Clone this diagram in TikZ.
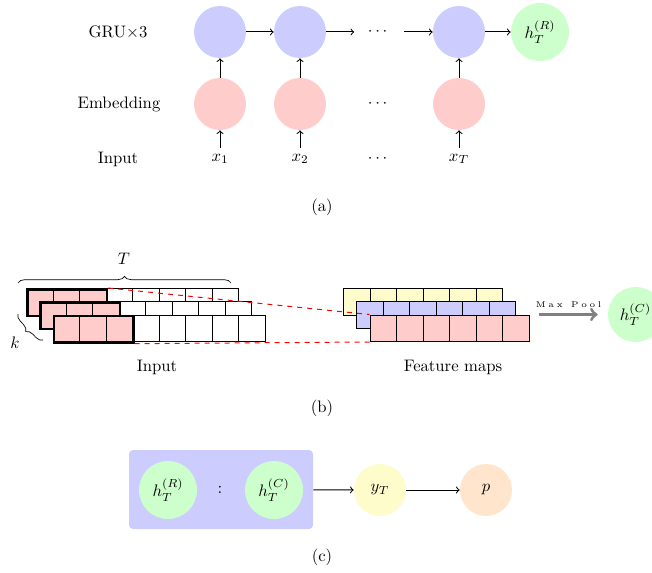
\documentclass[tikz,border=0pt]{standalone}
\usepackage{amsmath,amssymb}
\usepackage{tikz}
\usetikzlibrary{decorations.pathreplacing}
\usepackage{xcolor}

\tikzset{
  gru/.style={circle,fill=blue!20,minimum size=31.2pt,inner sep=0pt},
  emb/.style={circle,fill=red!20,minimum size=31.2pt,inner sep=0pt},
  hid/.style={circle,fill=green!20,minimum size=34.8pt,inner sep=0pt},
  skip/.style={inner sep=8pt},
  flow/.style={->,line width=.6pt},
  cell/.style={draw,line width=.6pt,minimum size=15.9pt,inner sep=0pt,anchor=north west},
  cellbox/.style={draw,line width=1.6pt,minimum width=47.7pt,minimum height=15.9pt,inner sep=0pt,anchor=north west},
}
\newcommand{\spc}{\kern1.6pt}

\begin{document}
\begin{tikzpicture}[x=.6pt,y=-.6pt]
        \path[use as bounding box,clip] (0,0) rectangle (652,572);
        % (a) recurrent part
        \node (lgru) at (118,32) {GRU$\times$3};
        \node (lemb) at (119,104) {Embedding};
        \node (lin) at (118,159) {Input};
        \foreach \n/\x/\s in {1/220/1,2/300/2,3/459/T} {
          \node[gru] (g\n) at (\x,32) {};
          \node[emb] (e\n) at (\x,104) {};
          \node (x\n) at (\x,159) {$x_{\s}$};
          \draw[flow] (x\n) -- (e\n);
          \draw[flow] (e\n) -- (g\n);
        }
        \foreach \y/\r in {32/a,104/b,159/c} \node[skip] (d\r) at (379,\y) {$\cdots$};
        \node[hid] (hR) at (540,32) {$h_T^{(R)}$};
        \draw[flow] (g1) -- (g2);
        \draw[flow] (g2) -- (da);
        \draw[flow] (da) -- (g3);
        \draw[flow] (g3) -- (hR);
        \node (capa) at (322,207) {(a)};
        % (b) convolution part
        \foreach \l in {0,1,2} {
          \foreach \i in {3,...,7}
            \node[cell,fill=white] (in-\l-\i) at (26+13.25*\l+26.5*\i,288+13.25*\l) {};
          \foreach \i in {0,1,2}
            \node[cell,fill=red!20] (in-\l-\i) at (26+13.25*\l+26.5*\i,288+13.25*\l) {};
          \node[cellbox] (inbox-\l) at (26+13.25*\l,288+13.25*\l) {};
        }
        \foreach \l/\c in {0/yellow!20,1/blue!20,2/red!20}
          \foreach \i in {0,...,5}
            \node[cell,fill=\c] (fm-\l-\i) at (343+13.25*\l+26.5*\i,288+13.25*\l) {};
        \draw[red,dashed,line width=.6pt] (inbox-0.north east) -- (fm-2-0.north west);
        \draw[red,dashed,line width=.6pt] (inbox-2.south east) -- (fm-2-0.south west);
        % braces
        \draw[decorate,decoration={brace,amplitude=4pt}] (18,283) -- (231,283);
        \node (lT) at (124,259) {$T$};
        \draw[decorate,decoration={brace,amplitude=4pt}] (43,340) -- (18,314);
        \node (lk) at (15,343) {$k$};
        \node (lin2) at (157,367) {Input};
        \node (lfm) at (453,367) {Feature maps};
        \node[hid,minimum size=33pt] (hC) at (635.5,314.5) {$h_T^{(C)}$};
        \draw[->,gray,line width=1.8pt,shorten <=5.4pt,shorten >=6pt] (fm-2-5.north east) -- (hC)
          node[midway,above,text=black,font=\tiny] (lpool) {M\spc a\spc x\hspace{5pt}P\spc o\spc o\spc l};
        \node (capb) at (322,408) {(b)};
        % (c) classifier
        \node[fill=blue!20,rounded corners=2.4pt,minimum width=110.4pt,minimum height=47.4pt] (cat) at (221,489.5) {};
        \node[hid] (hR2) at (168,490) {$h_T^{(R)}$};
        \node (colon) at (220,490) {:};
        \node[hid] (hC2) at (274,490) {$h_T^{(C)}$};
        \node[circle,fill=yellow!20,minimum size=31.2pt,inner sep=0pt] (yT) at (380,490) {$y_T$};
        \node[circle,fill=orange!20,minimum size=31.2pt,inner sep=0pt] (p) at (486,490) {$p$};
        \draw[flow] (cat) -- (yT);
        \draw[flow] (yT) -- (p);
        \node (capc) at (322,557) {(c)};
\end{tikzpicture}
\end{document}
